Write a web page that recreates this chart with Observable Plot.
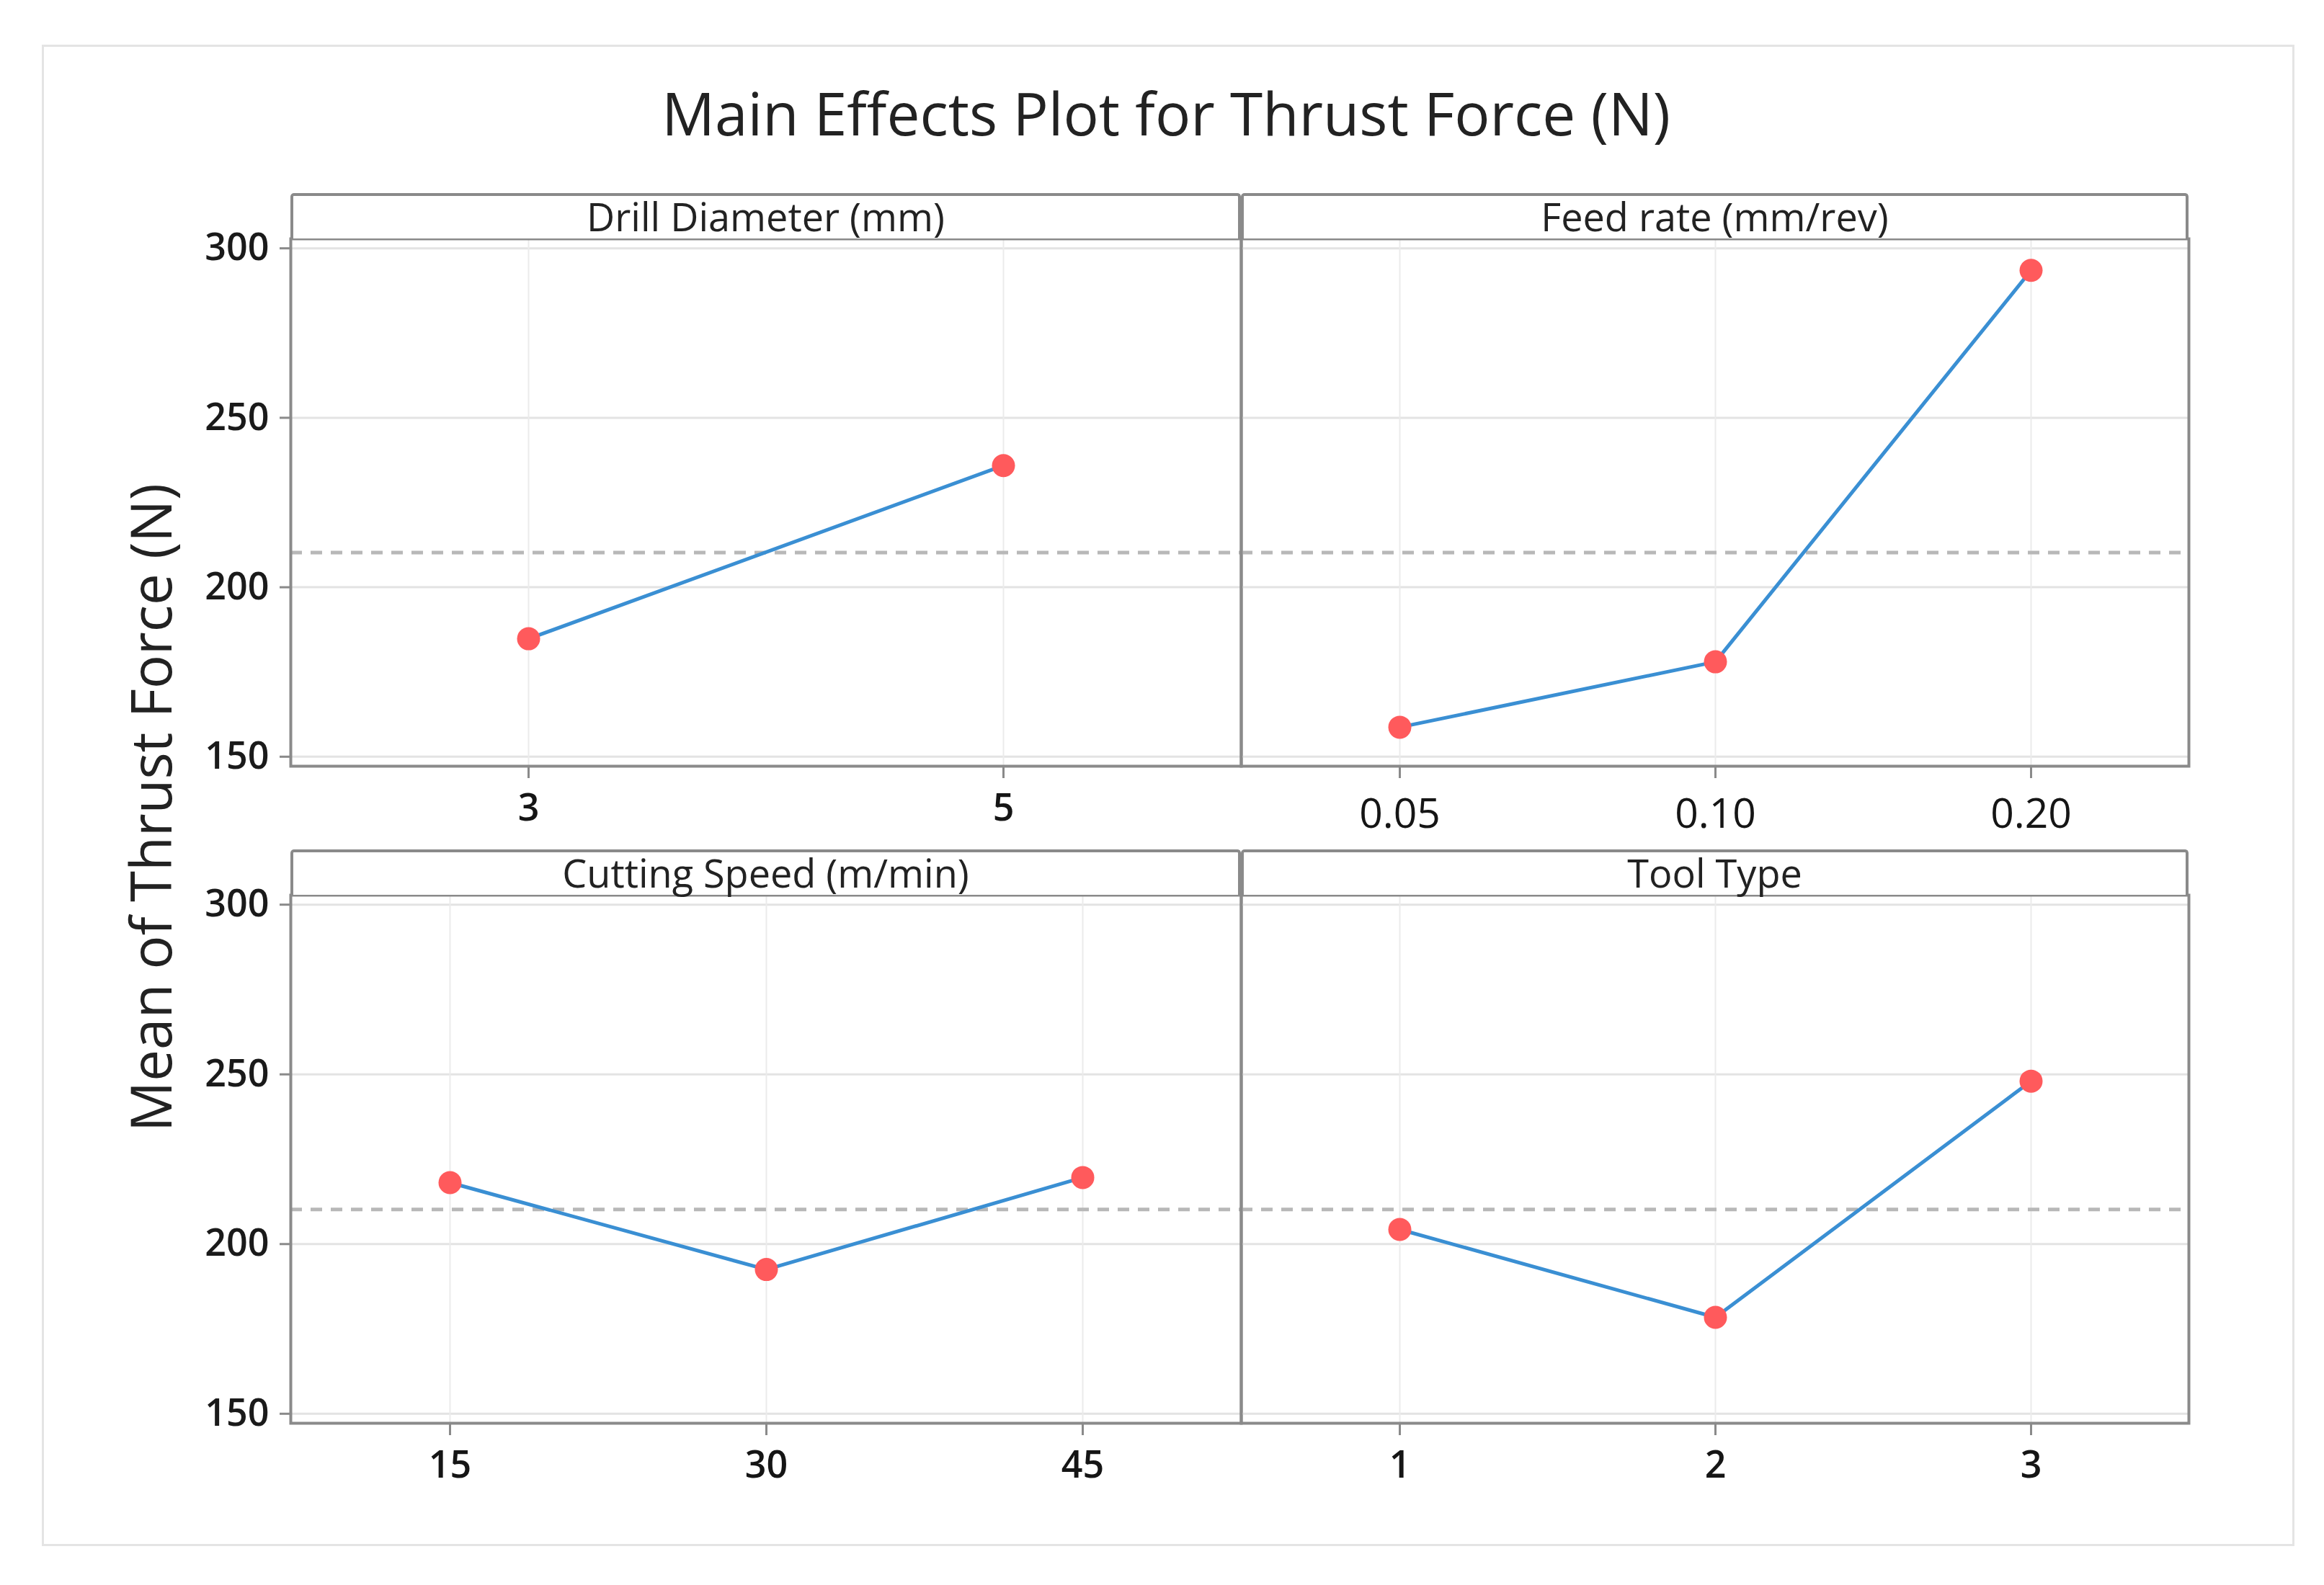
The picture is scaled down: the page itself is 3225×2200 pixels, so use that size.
<!DOCTYPE html>
<html>
<head>
<meta charset="utf-8">
<script src="https://cdn.jsdelivr.net/npm/d3@7"></script>
<script src="https://cdn.jsdelivr.net/npm/@observablehq/plot@0.6"></script>
<style>
html, body { margin: 0; padding: 0; background: #fff; }
#root { position: relative; width: 3225px; height: 2200px; overflow: hidden; background: #fff;
        font-family: "Open Sans", "Noto Sans", sans-serif; color: #222; }
.abs { position: absolute; white-space: nowrap; }
.strip { position: absolute; box-sizing: border-box; border: 4px solid #8a8a8a; border-bottom: none;
         border-radius: 5px 5px 0 0; background: #fff; }
.striptext { position: absolute; text-align: center; font-size: 54px; line-height: 54px; font-weight: 500; color: #222; white-space: nowrap; }
</style>
</head>
<body>
<div id="root"></div>
<script>
// ---------------- data ----------------
const chartTitle = "Main Effects Plot for Thrust Force (N)";
const yLabel = "Mean of Thrust Force (N)";
const factorNames = ["Drill Diameter (mm)", "Feed rate (mm/rev)", "Cutting Speed (m/min)", "Tool Type"];
const drillLevels = ["3", "5"];
const drillMeans = [184.8, 235.9];
const feedLevels = ["0.05", "0.10", "0.20"];
const feedMeans = [158.7, 178.0, 293.5];
const speedLevels = ["15", "30", "45"];
const speedMeans = [218.1, 192.5, 219.6];
const toolLevels = ["1", "2", "3"];
const toolMeans = [204.3, 178.4, 248.0];
const grandMean = 210.2;
const yTicks = [150, 200, 250, 300];
const yDomain = [147.2, 302.8];

// ---------------- layout ----------------
const root = document.getElementById("root");
const STRIP_H = 63;
const panels = [
  {name: factorNames[0], levels: drillLevels, means: drillMeans, left: 403, top: 331, w: 1319, h: 732, yAxis: true, xFont: 52, xWeight: 600, xPad: 22},
  {name: factorNames[1], levels: feedLevels, means: feedMeans, left: 1722, top: 331, w: 1315, h: 732, yAxis: false, xFont: 57, xWeight: 400, xPad: 28},
  {name: factorNames[2], levels: speedLevels, means: speedMeans, left: 403, top: 1242, w: 1319, h: 733, yAxis: true, xFont: 52, xWeight: 600, xPad: 22},
  {name: factorNames[3], levels: toolLevels, means: toolMeans, left: 1722, top: 1242, w: 1315, h: 733, yAxis: false, xFont: 52, xWeight: 600, xPad: 22}
];

// outer border
const border = document.createElement("div");
border.className = "abs";
Object.assign(border.style, {left: "58px", top: "62px", width: "3126px", height: "2084px",
  boxSizing: "border-box", border: "3px solid #e4e4e4"});
root.appendChild(border);

// title
const title = document.createElement("div");
title.className = "abs";
title.textContent = chartTitle;
Object.assign(title.style, {left: "0px", width: "3236px", top: "115px", textAlign: "center",
  fontSize: "82px", lineHeight: "82px", color: "#222"});
root.appendChild(title);

// y label
const yl = document.createElement("div");
yl.className = "abs";
yl.textContent = yLabel;
Object.assign(yl.style, {left: (208 - 600) + "px", width: "1200px", top: (1121 - 39) + "px", height: "78px",
  textAlign: "center", fontSize: "78px", lineHeight: "78px", color: "#222", transform: "rotate(-90deg)",
  transformOrigin: "50% 50%"});
root.appendChild(yl);

for (const p of panels) {
  const mL = p.yAxis ? 170 : 4, mR = 4, mT = 4, mB = 120;
  const data = p.levels.map((l, i) => ({level: l, mean: p.means[i]}));
  const marks = [
    Plot.gridY(yTicks, {stroke: "#e3e3e3", strokeOpacity: 1, strokeWidth: 3}),
    Plot.gridX({stroke: "#ebebeb", strokeOpacity: 1, strokeWidth: 2}),
    Plot.ruleY([grandMean], {stroke: "#b8b8b8", strokeWidth: 5, strokeDasharray: "16,12"}),
    Plot.line(data, {x: "level", y: "mean", stroke: "#3a8fd3", strokeWidth: 5}),
    Plot.dot(data, {x: "level", y: "mean", r: 16, fill: "#ff5a5c", stroke: "none"}),
    Plot.frame({stroke: "#8a8a8a", strokeWidth: 4}),
    Plot.axisX({tickSize: 17, tickPadding: p.xPad, stroke: "#8a8a8a", strokeWidth: 3, fill: "#151515",
      fontSize: p.xFont, fontWeight: p.xWeight, label: null})
  ];
  if (p.yAxis) {
    marks.push(Plot.axisY(yTicks, {tickSize: 15, tickPadding: 15, stroke: "#8a8a8a", strokeWidth: 3, fill: "#1a1a1a",
      fontSize: 52, fontWeight: 600, label: null}));
  }
  const chart = Plot.plot({
    width: mL + p.w + mR,
    height: mT + p.h + mB,
    marginLeft: mL, marginRight: mR, marginTop: mT, marginBottom: mB,
    style: {background: "transparent", fontFamily: '"Open Sans", "Noto Sans", sans-serif', color: "#222", overflow: "visible", maxWidth: "none"},
    x: {type: "point", domain: p.levels, padding: 0.5, align: 0.5, axis: null},
    y: p.yAxis ? {domain: yDomain} : {domain: yDomain, axis: null},
    marks
  });
  chart.style.position = "absolute";
  chart.style.left = (p.left - mL) + "px";
  chart.style.top = (p.top - mT) + "px";
  root.appendChild(chart);

  const strip = document.createElement("div");
  strip.className = "strip";
  Object.assign(strip.style, {left: p.left + "px", top: (p.top - STRIP_H) + "px", width: p.w + "px", height: STRIP_H + "px"});
  root.appendChild(strip);

  const st = document.createElement("div");
  st.className = "striptext";
  st.textContent = p.name;
  Object.assign(st.style, {left: p.left + "px", width: p.w + "px", top: (p.top - 10 - 48) + "px"});
  root.appendChild(st);
}
</script>
</body>
</html>
